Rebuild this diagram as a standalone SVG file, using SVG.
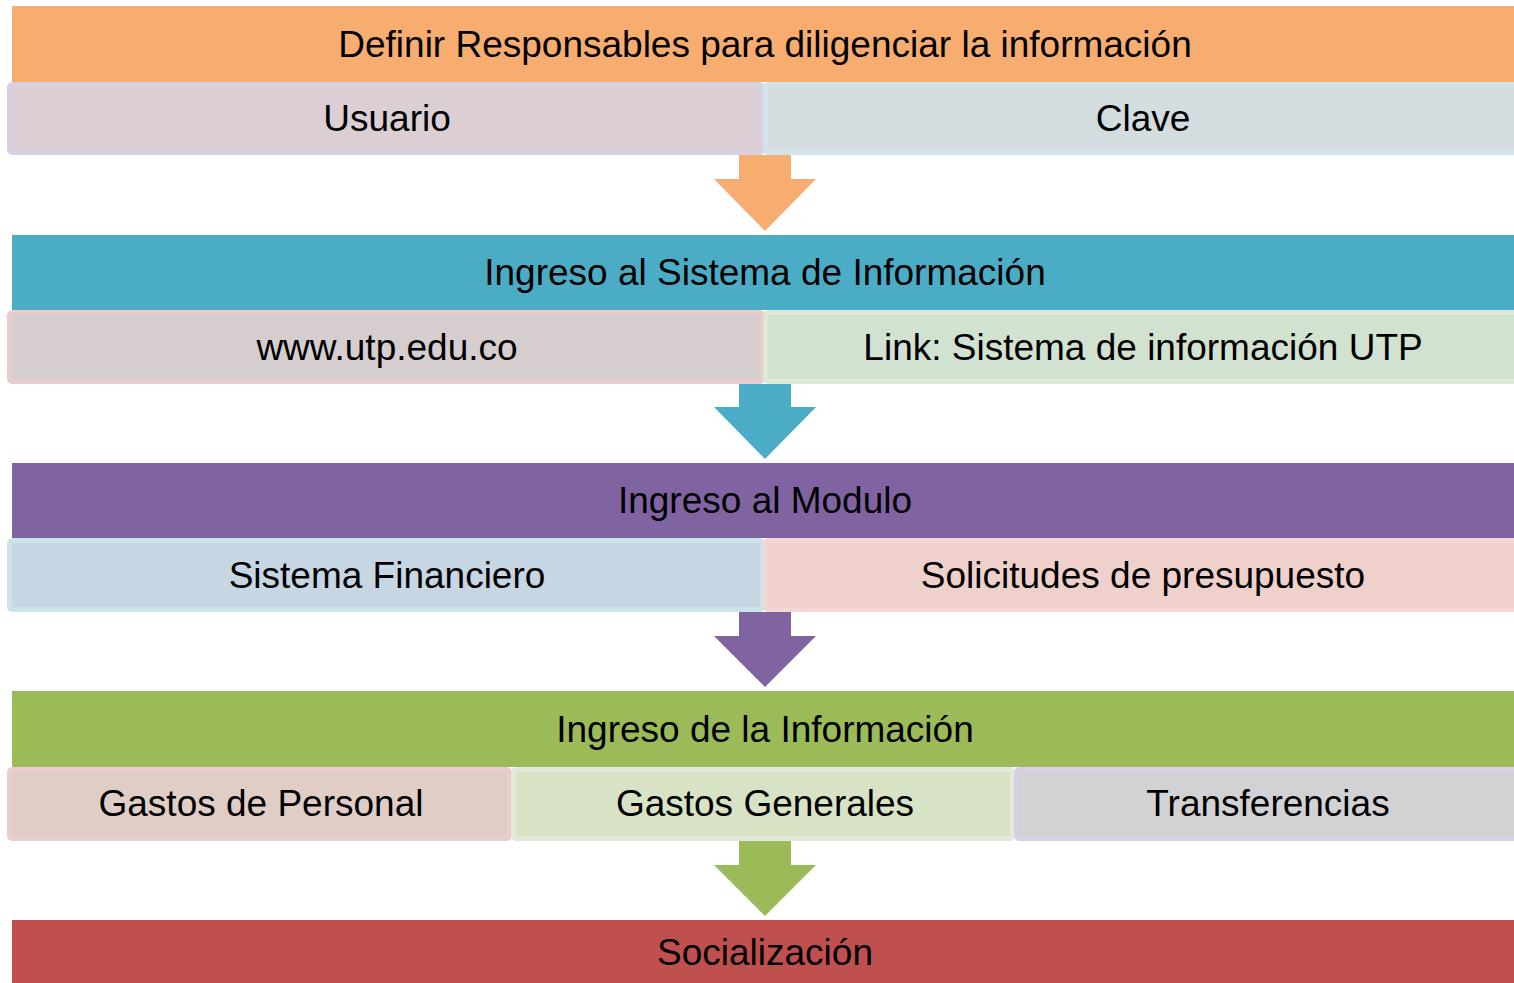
<svg xmlns="http://www.w3.org/2000/svg" width="1514" height="983" viewBox="0 0 1514 983">
<style>
text{font-family:"Liberation Sans",Arial,sans-serif;font-size:37px;fill:#000;text-anchor:middle}
.sub{stroke-width:5}
</style>
<rect width="1514" height="983" fill="#fff"/>
<g id="connectors">
<polygon points="739,155 791,155 791,179 816,179 765,231 714,179 739,179" fill="#F7AD70"/>
<polygon points="739,384 791,384 791,407 816,407 765,459 714,407 739,407" fill="#4BACC6"/>
<polygon points="739,612 791,612 791,636 816,636 765,687 714,636 739,636" fill="#8064A2"/>
<polygon points="739,841 791,841 791,865 816,865 765,916 714,865 739,865" fill="#9BBB59"/>
</g>
<g id="step1">
<rect x="12" y="6" width="1510" height="76" fill="#F7AD70"/>
<text x="765" y="57">Definir Responsables para diligenciar la información</text>
</g>
<g id="usuario">
<rect class="sub" x="9.5" y="84.5" width="753" height="68" rx="3" fill="#DBCFD5" stroke="#D9D1E1"/>
<text x="387" y="131">Usuario</text>
</g>
<g id="clave">
<rect class="sub" x="765.5" y="84.5" width="760" height="68" rx="3" fill="#D3DDDF" stroke="#D1E4EC"/>
<text x="1143" y="131">Clave</text>
</g>
<g id="step2">
<rect x="12" y="235" width="1510" height="75" fill="#4BACC6"/>
<text x="765" y="285">Ingreso al Sistema de Información</text>
</g>
<g id="www">
<rect class="sub" x="9.5" y="312.5" width="753" height="69" rx="3" fill="#D6CDCF" stroke="#EACCCE"/>
<text x="387" y="360">www.utp.edu.co</text>
</g>
<g id="link">
<rect class="sub" x="765.5" y="312.5" width="760" height="69" rx="3" fill="#D1E2D0" stroke="#DDE8D5"/>
<text x="1143" y="360">Link: Sistema de información UTP</text>
</g>
<g id="step3">
<rect x="12" y="463" width="1510" height="75" fill="#8064A2"/>
<text x="765" y="513">Ingreso al Modulo</text>
</g>
<g id="financiero">
<rect class="sub" x="9.5" y="540.5" width="753" height="69" rx="3" fill="#C6D6E2" stroke="#CCE4E8"/>
<text x="387" y="588">Sistema Financiero</text>
</g>
<g id="solicitudes">
<rect class="sub" x="765.5" y="540.5" width="760" height="69" rx="3" fill="#F0D0CA" stroke="#F2D8D3"/>
<text x="1143" y="588">Solicitudes de presupuesto</text>
</g>
<g id="step4">
<rect x="12" y="691" width="1510" height="76" fill="#9BBB59"/>
<text x="765" y="742">Ingreso de la Información</text>
</g>
<g id="personal">
<rect class="sub" x="9.5" y="769.5" width="500" height="69" rx="3" fill="#E0CDC6" stroke="#EACDD0"/>
<text x="261" y="816">Gastos de Personal</text>
</g>
<g id="generales">
<rect class="sub" x="513.5" y="769.5" width="499" height="69" rx="3" fill="#D8E3C6" stroke="#E2E9DA"/>
<text x="765" y="816">Gastos Generales</text>
</g>
<g id="transferencias">
<rect class="sub" x="1016.5" y="769.5" width="510" height="69" rx="3" fill="#D2D2D4" stroke="#D6D0E2"/>
<text x="1268" y="816">Transferencias</text>
</g>
<g id="step5">
<rect x="12" y="920" width="1510" height="63" fill="#C0504D"/>
<text x="765" y="965">Socialización</text>
</g>
</svg>
